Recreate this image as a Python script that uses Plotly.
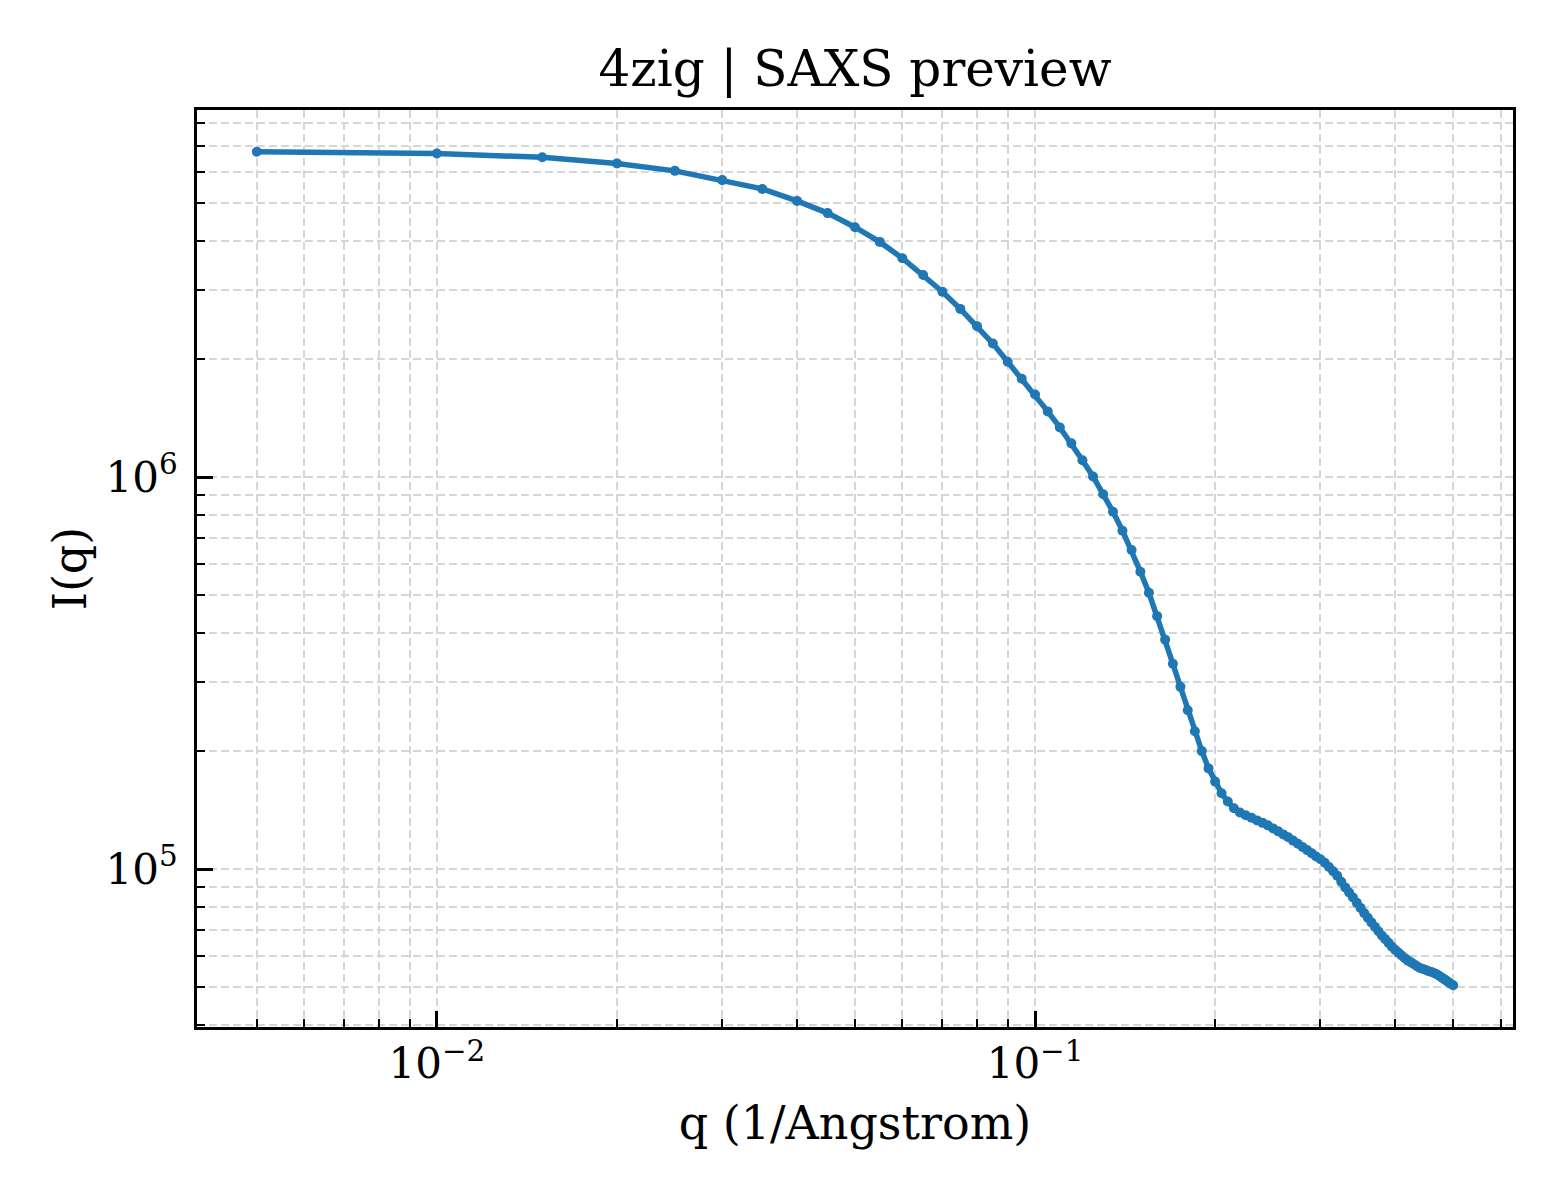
import plotly.graph_objects as go

# SAXS profile of 4zig, values
q = [0.005, 0.010, 0.015, 0.020, 0.025, 0.030, 0.035, 0.040, 0.045, 0.050,
     0.055, 0.060, 0.065, 0.070, 0.075, 0.080, 0.085, 0.090, 0.095, 0.100,
     0.105, 0.110, 0.115, 0.120, 0.125, 0.130, 0.135, 0.140, 0.145, 0.150,
     0.155, 0.160, 0.165, 0.170, 0.175, 0.180, 0.185, 0.190, 0.195, 0.200,
     0.205, 0.210, 0.215, 0.220, 0.225, 0.230, 0.235, 0.240, 0.245, 0.250,
     0.255, 0.260, 0.265, 0.270, 0.275, 0.280, 0.285, 0.290, 0.295, 0.300,
     0.305, 0.310, 0.315, 0.320, 0.325, 0.330, 0.335, 0.340, 0.345, 0.350,
     0.355, 0.360, 0.365, 0.370, 0.375, 0.380, 0.385, 0.390, 0.395, 0.400,
     0.405, 0.410, 0.415, 0.420, 0.425, 0.430, 0.435, 0.440, 0.445, 0.450,
     0.455, 0.460, 0.465, 0.470, 0.475, 0.480, 0.485, 0.490, 0.495, 0.500]

intensity = [6.77e6, 6.70e6, 6.55e6, 6.32e6, 6.05e6, 5.73e6, 5.44e6, 5.07e6, 4.72e6, 4.345e6,
             3.985e6, 3.62e6, 3.28e6, 2.974e6, 2.688e6, 2.427e6, 2.193e6, 1.970e6, 1.783e6, 1.626e6,
             1.472e6, 1.340e6, 1.220e6, 1.105e6, 1.004e6, 9.05e5, 8.16e5, 7.30e5, 6.52e5, 5.74e5,
             5.07e5, 4.42e5, 3.85e5, 3.34e5, 2.917e5, 2.542e5, 2.248e5, 2.000e5, 1.807e5, 1.672e5,
             1.561e5, 1.487e5, 1.429e5, 1.394e5, 1.372e5, 1.352e5, 1.331e5, 1.312e5, 1.293e5, 1.270e5,
             1.248e5, 1.226e5, 1.205e5, 1.182e5, 1.160e5, 1.138e5, 1.118e5, 1.098e5, 1.077e5, 1.059e5,
             1.038e5, 1.012e5, 9.87e4, 9.62e4, 9.28e4, 8.98e4, 8.71e4, 8.46e4, 8.20e4, 7.96e4,
             7.72e4, 7.51e4, 7.31e4, 7.12e4, 6.94e4, 6.77e4, 6.625e4, 6.48e4, 6.34e4, 6.22e4,
             6.12e4, 6.02e4, 5.925e4, 5.84e4, 5.78e4, 5.715e4, 5.65e4, 5.595e4, 5.56e4, 5.525e4,
             5.49e4, 5.46e4, 5.425e4, 5.385e4, 5.325e4, 5.27e4, 5.215e4, 5.16e4, 5.10e4, 5.053e4]

x_major = [0.01, 0.1]
x_major_text = ["10<sup>\u22122</sup>", "10<sup>\u22121</sup>"]
x_minor = [0.005, 0.006, 0.007, 0.008, 0.009, 0.02, 0.03, 0.04, 0.05, 0.06, 0.07,
           0.08, 0.09, 0.2, 0.3, 0.4, 0.5, 0.6]
y_major = [1e5, 1e6]
y_major_text = ["10<sup>5</sup>", "10<sup>6</sup>"]
y_minor = [4e4, 5e4, 6e4, 7e4, 8e4, 9e4, 2e5, 3e5, 4e5, 5e5, 6e5, 7e5, 8e5, 9e5,
           2e6, 3e6, 4e6, 5e6, 6e6, 7e6, 8e6, 9e6]

FONT = "DejaVu Serif"
GRID = "#d6d6d6"

fig = go.Figure()
fig.add_trace(go.Scatter(x=q, y=intensity, mode="lines+markers",
                         line=dict(color="#1f77b4", width=5.5),
                         marker=dict(color="#1f77b4", size=10)))

axis_common = dict(
    showline=True, linecolor="black", linewidth=3, mirror=True,
    ticks="inside", ticklen=16, tickwidth=2.5, tickcolor="black",
    showgrid=True, gridcolor=GRID, gridwidth=1.5, griddash="8px,4px",
    tickfont=dict(family=FONT, size=42, color="black"),
    tickmode="array",
)

fig.update_xaxes(type="log", range=[-2.401, -0.201],
                 tickvals=x_major, ticktext=x_major_text,
                 ticklabelstandoff=-2,
                 minor=dict(tickmode="array", tickvals=x_minor, ticks="inside",
                            ticklen=8, tickwidth=2, tickcolor="black",
                            showgrid=True, gridcolor=GRID, gridwidth=1.5, griddash="8px,4px"),
                 title=dict(text="q (1/Angstrom)", font=dict(family=FONT, size=46, color="black"),
                            standoff=20),
                 **axis_common)
fig.update_yaxes(type="log", range=[4.597, 6.937],
                 tickvals=y_major, ticktext=y_major_text,
                 ticklabelstandoff=8,
                 minor=dict(tickmode="array", tickvals=y_minor, ticks="inside",
                            ticklen=8, tickwidth=2, tickcolor="black",
                            showgrid=True, gridcolor=GRID, gridwidth=1.5, griddash="8px,4px"),
                 title=dict(text="I(q)", font=dict(family=FONT, size=46, color="black"),
                            standoff=5),
                 **axis_common)

# page has a small body margin, so margins are shifted to keep the frame in place
fig.update_layout(
    width=1560, height=1200,
    margin=dict(l=189, r=55, t=102, b=181),
    paper_bgcolor="white", plot_bgcolor="white",
    showlegend=False,
    title=dict(text="4zig | SAXS preview", x=(855 - 8) / 1560, xanchor="center",
               y=1 - 60 / 1200, yanchor="middle",
               font=dict(family=FONT, size=50, color="black")),
)

fig.write_html("out.html")
